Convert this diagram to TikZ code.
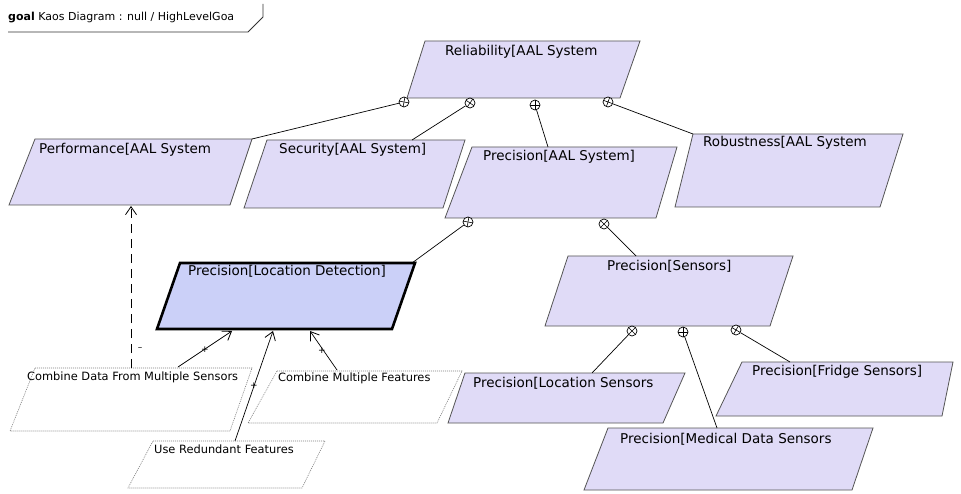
\documentclass[tikz,border=0pt]{standalone}
\usepackage{fontspec}
\setmainfont{DejaVu Sans}
\usetikzlibrary{arrows.meta,calc}
\definecolor{goalfill}{RGB}{224,219,247}
\definecolor{selfill}{RGB}{203,208,248}
\definecolor{edgegray}{RGB}{85,85,85}
\definecolor{dotgray}{RGB}{125,125,125}
% style, name, TLx, TRx, topy, BLx, BRx, boty
\newcommand\gbox[8]{%
  \path[#1] (#3,#5) coordinate (#2-tl) -- (#4,#5) coordinate (#2-tr) --
    (#7,#8) coordinate (#2-br) -- (#6,#8) coordinate (#2-bl) -- cycle;}
\tikzset{
  goalshape/.style={fill=goalfill, draw=edgegray, line width=0.8pt},
  selshape/.style={fill=selfill, draw=black, line width=2.6pt, line join=miter},
  opshape/.style={draw=dotgray, line width=0.6pt, dash pattern=on 1pt off 1pt},
  lbl/.style={anchor=west, inner sep=0pt, font=\fontsize{13.5}{15}\selectfont},
  oplbl/.style={anchor=west, inner sep=0pt, font=\fontsize{11.4}{13}\selectfont},
  refc/.style={circle, draw=black, line width=0.7pt, fill=white, minimum size=10pt, inner sep=0pt,
    path picture={\draw[line width=0.6pt, shift={(path picture bounding box.center)}]
      (#1:6) -- (#1+180:6) (#1+90:6) -- (#1+270:6);}},
  conn/.style={draw=black, line width=0.7pt},
  contrib/.style={draw=black, line width=0.7pt, -{Straight Barb[length=8pt,width=11pt,line width=0.8pt]}},
  sgn/.style={inner sep=0pt, font=\fontsize{9}{10}\selectfont},
}
\begin{document}
\begin{tikzpicture}[x=1pt,y=-1pt]
\useasboundingbox (0,0) rectangle (961,494);
\fill[white] (0,0) rectangle (961,494);

% title tab
\node[anchor=west, inner sep=0pt, font=\fontsize{11}{12}\selectfont] (title) at (8,18)
  {\textbf{goal} Kaos Diagram : null / HighLevelGoa};
\draw[line width=0.8pt, draw=black!80] (8,32) -- (248,32) -- (263,17) -- (263,4);

% goal boxes
\gbox{goalshape}{rel}{425}{640}{41}{407}{620}{98}
\gbox{goalshape}{perf}{35}{252}{139}{9}{230}{205}
\gbox{goalshape}{sec}{267}{465}{140}{244}{443}{208}
\gbox{goalshape}{prec}{472}{677}{147}{445}{656}{218}
\gbox{goalshape}{rob}{693}{903}{134}{675}{880}{207}
\gbox{selshape}{ld}{180}{415}{263}{157}{392}{329}
\gbox{goalshape}{sens}{568}{793}{256}{545}{770}{326}
\gbox{goalshape}{locs}{465}{685}{373}{448}{663}{423}
\gbox{goalshape}{fridge}{742}{953}{362}{716}{942}{416}
\gbox{goalshape}{med}{608}{873}{428}{584}{852}{490}
% operation boxes
\gbox{opshape}{cdata}{35}{252}{368}{10}{230}{431}
\gbox{opshape}{cmf}{277}{462}{371}{248}{437}{423}
\gbox{opshape}{urf}{153}{325}{441}{128}{302}{488}

% labels
\node[lbl] (rel-t) at (445,52) {Reliability[AAL System};
\node[lbl] (perf-t) at (39,150) {Performance[AAL System};
\node[lbl] (sec-t) at (279,150) {Security[AAL System]};
\node[lbl] (prec-t) at (483,157) {Precision[AAL System]};
\node[lbl] (rob-t) at (703,143) {Robustness[AAL System};
\node[lbl] (ld-t) at (188,271) {Precision[Location Detection]};
\node[lbl] (sens-t) at (607,266) {Precision[Sensors]};
\node[lbl] (locs-t) at (473,383) {Precision[Location Sensors};
\node[lbl] (fridge-t) at (752,372) {Precision[Fridge Sensors]};
\node[lbl] (med-t) at (620,439) {Precision[Medical Data Sensors};
\node[oplbl] (cdata-t) at (27,377) {Combine Data From Multiple Sensors};
\node[oplbl] (cmf-t) at (278,378) {Combine Multiple Features};
\node[oplbl] (urf-t) at (154,449) {Use Redundant Features};

% refinement circles
\node[refc=10] (c1) at (404,102) {};
\node[refc=35] (c2) at (470,103) {};
\node[refc=0]  (c3) at (535,105) {};
\node[refc=20] (c4) at (608,102) {};
\node[refc=10] (c5) at (468,222) {};
\node[refc=45] (c6) at (604,224) {};
\node[refc=45] (c7) at (632,331) {};
\node[refc=0]  (c8) at (683,332) {};
\node[refc=30] (c9) at (736,330) {};

% attachment points on children
\coordinate (sec-a) at (412,140);
\coordinate (prec-a) at (548,147);
\coordinate (ld-a) at (412,263);
\coordinate (sens-a) at (636,256);
\coordinate (locs-a) at (592,373);
\coordinate (med-a) at (717,428);
\coordinate (fridge-a) at (790,362);

\draw[conn] (c1) -- (perf-tr);
\draw[conn] (c2) -- (sec-a);
\draw[conn] (c3) -- (prec-a);
\draw[conn] (c4) -- (rob-tl);
\draw[conn] (c5) -- (ld-a);
\draw[conn] (c6) -- (sens-a);
\draw[conn] (c7) -- (locs-a);
\draw[conn] (c8) -- (med-a);
\draw[conn] (c9) -- (fridge-a);

% contribution links
\coordinate (cdata-a) at (178,367);
\coordinate (urf-a) at (235,441);
\coordinate (cmf-a) at (337,370);
\coordinate (ld-b1) at (232,331);
\coordinate (ld-b2) at (273,331);
\coordinate (ld-b3) at (310,331);
\draw[contrib] (cdata-a) -- (ld-b1);
\draw[contrib] (urf-a) -- (ld-b2);
\draw[contrib] (cmf-a) -- (ld-b3);
\node[sgn] (p1) at (205,350) {+};
\node[sgn] (p2) at (254,386) {+};
\node[sgn] (p3) at (322,351) {+};

% dashed link to Performance
\coordinate (cdata-d) at (131,368);
\coordinate (perf-d) at (131,206);
\draw[contrib, dash pattern=on 9pt off 6pt] (cdata-d) -- (perf-d);
\node[sgn] (m1) at (140,349) {–};
\end{tikzpicture}
\end{document}
